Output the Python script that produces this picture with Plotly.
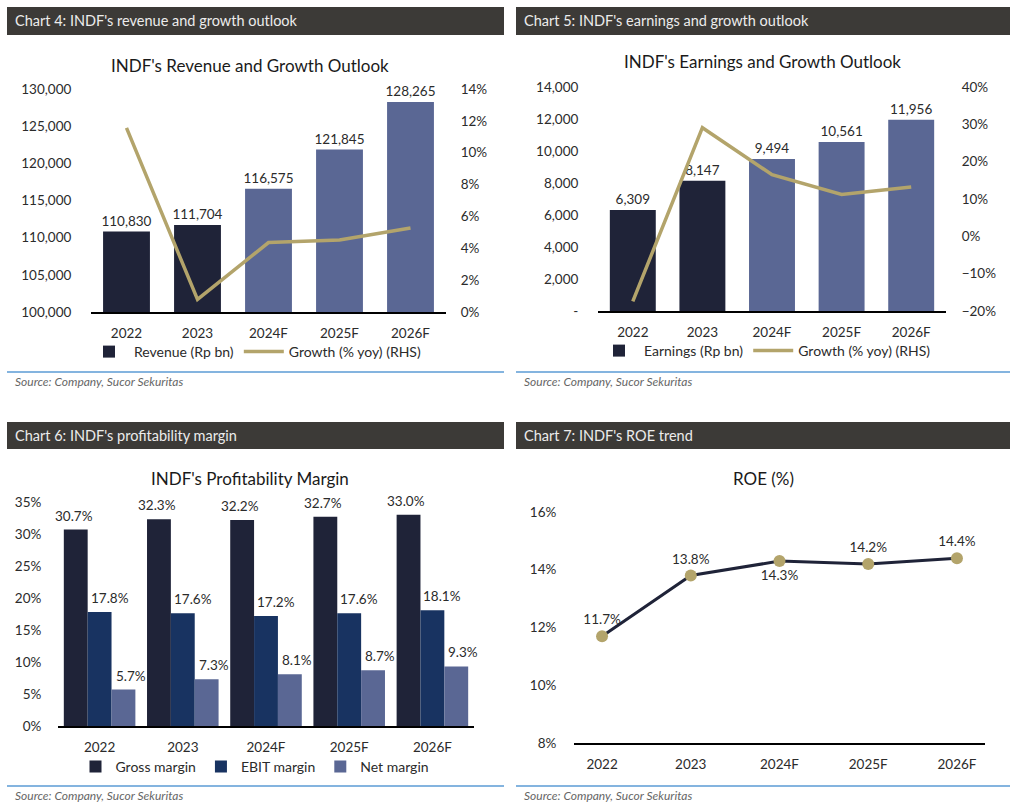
import plotly.graph_objects as go

# ---------------- data ----------------
years = ["2022", "2023", "2024F", "2025F", "2026F"]

revenue = [110830, 111704, 116575, 121845, 128265]
revenue_growth = [0.1156, 0.0079, 0.0436, 0.0452, 0.0527]

earnings = [6309, 8147, 9494, 10561, 11956]
earnings_growth = [-0.174, 0.291, 0.165, 0.112, 0.132]

gross_margin = [0.307, 0.323, 0.322, 0.327, 0.330]
ebit_margin = [0.178, 0.176, 0.172, 0.176, 0.181]
net_margin = [0.057, 0.073, 0.081, 0.087, 0.093]

roe = [0.117, 0.138, 0.143, 0.142, 0.144]

rev_ticks = [100000, 105000, 110000, 115000, 120000, 125000, 130000]
earn_ticks = [0, 2000, 4000, 6000, 8000, 10000, 12000, 14000]
earn_ticktext = ["-", "2,000", "4,000", "6,000", "8,000", "10,000", "12,000", "14,000"]

# ---------------- styles ----------------
W, H = 1024, 812
FONT = "Lato"
TXT = "#2b2b2b"
DARK = "#1f2338"
NAVY = "#183361"
SLATE = "#5a6794"
GOLD = "#b3a46b"
HEADER = "#3c3a37"
BLUE = "#5b9bd5"
actual_forecast = [DARK, DARK, SLATE, SLATE, SLATE]
LBL = 13.5


def px(x):
    return x / W


def py(y):
    return 1 - y / H


fig = go.Figure()

# Chart 4
fig.add_trace(go.Bar(x=years, y=revenue, name="Revenue (Rp bn)", marker_color=actual_forecast,
                     width=0.66, text=[f"{v:,}" for v in revenue], textposition="outside",
                     constraintext="none",
                     textfont=dict(size=LBL, color=TXT), cliponaxis=False,
                     xaxis="x", yaxis="y", legend="legend"))
fig.add_trace(go.Scatter(x=years, y=revenue_growth, name="Growth (% yoy) (RHS)", mode="lines",
                         line=dict(color=GOLD, width=3.5), xaxis="x", yaxis="y2", legend="legend"))

# Chart 5
fig.add_trace(go.Bar(x=years, y=earnings, name="Earnings (Rp bn)", marker_color=actual_forecast,
                     width=0.66, text=[f"{v:,}" for v in earnings], textposition="outside",
                     constraintext="none",
                     textfont=dict(size=LBL, color=TXT), cliponaxis=False,
                     xaxis="x3", yaxis="y3", legend="legend2"))
fig.add_trace(go.Scatter(x=years, y=earnings_growth, name="Growth (% yoy) (RHS)", mode="lines",
                         line=dict(color=GOLD, width=3.5), xaxis="x3", yaxis="y4", legend="legend2"))

# Chart 6
margin_series = [(gross_margin, "Gross margin", DARK, -26),
                 (ebit_margin, "EBIT margin", NAVY, 10),
                 (net_margin, "Net margin", SLATE, 31)]
annotations = []
for vals, nm, col, shift in margin_series:
    fig.add_trace(go.Bar(x=years, y=vals, name=nm, marker_color=col,
                         xaxis="x5", yaxis="y5", legend="legend3"))
    for i, v in enumerate(vals):
        # category index i on the categorical x axis
        annotations.append(dict(x=i, y=v, xref="x5", yref="y5", text=f"{v*100:.1f}%",
                                showarrow=False, yanchor="bottom", xanchor="center",
                                xshift=shift, yshift=4,
                                font=dict(size=LBL, color=TXT, family=FONT)))

# Chart 7
fig.add_trace(go.Scatter(x=years, y=roe, mode="lines+markers+text", showlegend=False,
                         line=dict(color=DARK, width=3),
                         marker=dict(color=GOLD, size=12),
                         text=[f"{v*100:.1f}%" for v in roe],
                         textposition=["top center", "top center", "bottom center", "top center", "top center"],
                         textfont=dict(size=LBL, color=TXT), cliponaxis=False,
                         xaxis="x6", yaxis="y6"))

tickfont = dict(size=13.5, color=TXT, family=FONT)
xbase = dict(type="category", showline=True, linecolor="#000000", linewidth=1.5, showgrid=False,
             zeroline=False, ticks="outside", ticklen=8, tickcolor="rgba(0,0,0,0)", tickfont=tickfont,
             fixedrange=True, automargin=False)
ybase = dict(showline=False, showgrid=False, zeroline=False, ticks="outside",
             tickcolor="rgba(0,0,0,0)", tickfont=tickfont, fixedrange=True, automargin=False)

legfont = dict(size=14, color=TXT, family=FONT)
fig.update_layout(
    template="none",
    width=W, height=H, margin=dict(l=0, r=0, t=0, b=0, pad=0, autoexpand=False),
    paper_bgcolor="white", plot_bgcolor="white",
    font=dict(family=FONT, color=TXT),
    barmode="group", bargap=0.14, bargroupgap=0,
    xaxis=dict(xbase, domain=[px(91), px(446)], anchor="y"),
    yaxis=dict(ybase, domain=[py(312), py(89)], range=[100000, 130000], tickvals=rev_ticks,
               tickformat=",", ticklen=16, anchor="x"),
    yaxis2=dict(ybase, overlaying="y", side="right", range=[0, 0.14], dtick=0.02,
                tickformat=".0%", ticklen=11, anchor="x"),
    xaxis3=dict(xbase, domain=[px(598), px(946)], anchor="y3"),
    yaxis3=dict(ybase, domain=[py(311), py(87)], range=[0, 14000], tickvals=earn_ticks,
                ticktext=earn_ticktext, ticklen=16, anchor="x3"),
    yaxis4=dict(ybase, overlaying="y3", side="right", range=[-0.2, 0.4], dtick=0.1,
                tickformat=".0%", ticklen=12, anchor="x3"),
    xaxis5=dict(xbase, domain=[px(58), px(474)], anchor="y5", range=[-0.5, 4.5]),
    yaxis5=dict(ybase, domain=[py(726), py(502)], range=[0, 0.35], dtick=0.05,
                tickformat=".0%", ticklen=13, anchor="x5"),
    xaxis6=dict(xbase, domain=[px(574), px(985)], anchor="y6"),
    yaxis6=dict(ybase, domain=[py(743), py(512)], range=[0.08, 0.16], dtick=0.02,
                tickformat=".0%", ticklen=14, anchor="x6"),
    legend=dict(orientation="h", x=px(255), y=py(352), xanchor="center", yanchor="middle",
                font=legfont, bgcolor="rgba(0,0,0,0)", itemwidth=40),
    legend2=dict(orientation="h", x=px(765), y=py(351), xanchor="center", yanchor="middle",
                 font=legfont, bgcolor="rgba(0,0,0,0)", itemwidth=40),
    legend3=dict(orientation="h", x=px(255), y=py(767), xanchor="center", yanchor="middle",
                 font=legfont, bgcolor="rgba(0,0,0,0)"),
)

shapes = []
panels = [
    (7, 504, 7, 35, "Chart 4: INDF's revenue and growth outlook", "INDF's Revenue and Growth Outlook", 250, 66, 372, 381),
    (516, 1010, 7, 35, "Chart 5: INDF's earnings and growth outlook", "INDF's Earnings and Growth Outlook", 762, 62, 372, 381),
    (7, 504, 422, 449, "Chart 6: INDF's profitability margin", "INDF's Profitability Margin", 250, 478, 786, 795),
    (516, 1010, 422, 449, "Chart 7: INDF's ROE trend", "ROE (%)", 763, 478, 786, 795),
]
for x0, x1, y0, y1, head, title, tx, ty, ly, sy in panels:
    shapes.append(dict(type="rect", xref="paper", yref="paper", x0=px(x0), x1=px(x1), y0=py(y1), y1=py(y0),
                       fillcolor=HEADER, line=dict(width=0), layer="below"))
    shapes.append(dict(type="line", xref="paper", yref="paper", x0=px(x0), x1=px(x1), y0=py(ly), y1=py(ly),
                       line=dict(color=BLUE, width=1.5)))
    annotations.append(dict(text=head, xref="paper", yref="paper", x=px(x0 + 6), y=py((y0 + y1) / 2),
                            xanchor="left", yanchor="middle", showarrow=False,
                            font=dict(size=14.5, color="#ececec", family=FONT)))
    annotations.append(dict(text=title, xref="paper", yref="paper", x=px(tx), y=py(ty),
                            xanchor="center", yanchor="middle", showarrow=False,
                            font=dict(size=17, color="#1a1a1a", family=FONT)))
    annotations.append(dict(text="<i>Source: Company, Sucor Sekuritas</i>", xref="paper", yref="paper",
                            x=px(x0 + 6), y=py(sy), xanchor="left", yanchor="middle", showarrow=False,
                            font=dict(size=12, color="#666666", family=FONT)))

fig.update_layout(shapes=shapes, annotations=annotations)

fig.write_html("out.html", config={"displayModeBar": False},
               post_script="document.body.style.margin='0';document.body.style.overflow='hidden';")
